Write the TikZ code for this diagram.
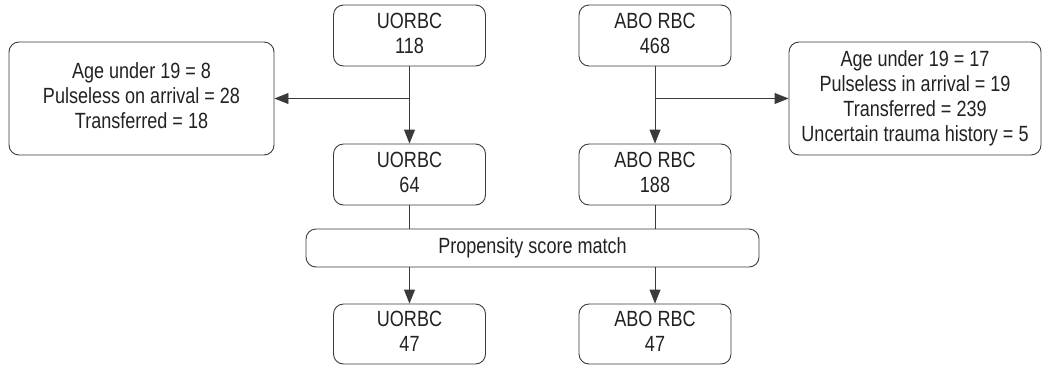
\documentclass[tikz,border=0pt]{standalone}
\usepackage{fontspec}
\setmainfont{Liberation Sans}[FakeStretch=0.82]
\usetikzlibrary{arrows.meta}
\definecolor{linec}{HTML}{3A3A3A}
\definecolor{textc}{HTML}{222222}
\newcommand\boxlines[1]{\raisebox{-3pt}{\begin{tabular}{@{}c@{}}#1\end{tabular}}}
\begin{document}
\begin{tikzpicture}[x=1pt,y=-1pt,
  box/.style={draw=linec,line width=0.9pt,rounded corners=10pt,
    text=textc,font=\fontsize{22}{25}\selectfont,inner sep=0pt},
  conn/.style={draw=linec,line width=0.9pt},
  arr/.style={conn,-{Triangle[length=14pt,width=11pt]}}]
\useasboundingbox (0,0) rectangle (1043,365);
\node[box,minimum width=152pt,minimum height=61pt] (u1) at (409.5,35.5) {\boxlines{UORBC\\118}};
\node[box,minimum width=152pt,minimum height=61pt] (a1) at (655,35.5) {\boxlines{ABO RBC\\468}};
\node[box,minimum width=265pt,minimum height=113pt] (L) at (141.5,98.5) {\boxlines{Age under 19 = 8\\Pulseless on arrival = 28\\Transferred = 18}};
\node[box,minimum width=252pt,minimum height=113pt] (R) at (915,98.5) {\boxlines{Age under 19 = 17\\Pulseless in arrival = 19\\Transferred = 239\\Uncertain trauma history = 5}};
\node[box,minimum width=152pt,minimum height=61pt] (u2) at (409.5,174.5) {\boxlines{UORBC\\64}};
\node[box,minimum width=152pt,minimum height=61pt] (a2) at (655,174.5) {\boxlines{ABO RBC\\188}};
\node[box,minimum width=453pt,minimum height=38pt] (P) at (532.5,248) {\boxlines{Propensity score match}};
\node[box,minimum width=152pt,minimum height=60pt] (u3) at (409.5,334) {\boxlines{UORBC\\47}};
\node[box,minimum width=152pt,minimum height=60pt] (a3) at (655,334) {\boxlines{ABO RBC\\47}};
\coordinate (jl) at (409.5,98.5);
\coordinate (jr) at (655,98.5);
\draw[arr] (u1) -- (u2);
\draw[arr] (a1) -- (a2);
\draw[arr] (jl) -- (L.east);
\draw[arr] (jr) -- (R.west);
\draw[conn] (u2) -- (u2 |- P.north);
\draw[conn] (a2) -- (a2 |- P.north);
\draw[arr] (u3 |- P.south) -- (u3);
\draw[arr] (a3 |- P.south) -- (a3);
\end{tikzpicture}
\end{document}
